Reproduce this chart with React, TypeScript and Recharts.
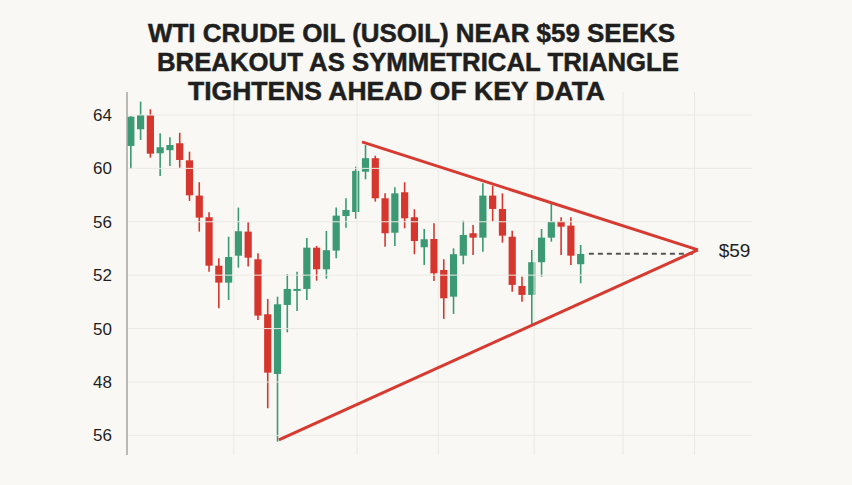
import {
  Bar,
  ComposedChart,
  ReferenceDot,
  ReferenceLine,
  XAxis,
  YAxis,
} from "recharts";

// WTI crude daily candles (index = session number).
const OPEN = [
  61.68, 62.93, 63.98, 61.13, 61.36, 61.88, 60.6, 57.96, 56.34, 52.71,
  51.44, 53.46, 55.26, 53.19, 49.07, 44.6, 49.77, 50.84, 50.97, 54.06,
  52.44, 53.84, 56.43, 56.73, 59.75, 60.76, 57.76, 55.18, 58.21, 56.34,
  54.09, 54.71, 52.39, 50.39, 53.46, 55.14, 54.81, 57.96, 56.96, 54.88,
  51.19, 50.52, 52.97, 54.81, 56.01, 55.71, 52.82,
];
const HIGH = [
  63.9, 65.0, 64.43, 62.63, 62.33, 62.67, 61.25, 58.96, 56.71, 53.27,
  54.88, 57.06, 55.96, 53.64, 50.22, 50.39, 52.07, 52.26, 54.79, 54.19,
  55.31, 57.06, 57.76, 60.13, 61.75, 60.95, 58.13, 58.58, 58.96, 56.94,
  55.46, 55.89, 53.19, 54.01, 56.08, 55.76, 58.88, 58.7, 58.13, 55.33,
  51.89, 53.89, 55.46, 57.39, 56.34, 56.34, 54.26,
];
const LOW = [
  59.96, 62.13, 60.8, 59.43, 60.18, 60.05, 57.56, 55.26, 52.26, 49.52,
  50.14, 52.56, 52.64, 48.64, 42.03, 39.53, 47.72, 49.32, 50.14, 51.59,
  51.74, 53.27, 55.56, 56.23, 59.18, 57.51, 54.13, 54.19, 55.51, 53.57,
  52.76, 51.57, 48.72, 49.1, 52.82, 53.51, 53.76, 56.01, 54.43, 50.76,
  50.01, 48.27, 51.89, 54.51, 53.51, 52.76, 51.39,
];
const CLOSE = [
  63.87, 64.0, 61.1, 61.58, 61.75, 60.63, 57.98, 56.31, 52.71, 51.44,
  53.36, 55.29, 53.31, 48.97, 44.7, 49.82, 50.97, 50.97, 54.06, 52.44,
  53.87, 56.46, 56.88, 59.81, 60.76, 57.76, 55.14, 58.13, 56.26, 54.56,
  54.69, 52.14, 50.27, 53.57, 55.01, 54.81, 57.96, 56.96, 54.96, 51.27,
  50.52, 52.97, 54.81, 56.01, 55.63, 53.46, 53.59,
];

// y axis: evenly spaced gridlines, labelled as printed on the original
const Y_TICKS = [64, 60, 56, 52, 48, 44, 40];
const Y_TICK_LABELS = ["64", "60", "56", "52", "50", "48", "56"];
const X_GRID = [10.5, 23.1, 31.4, 41.2, 50.3, 57.6];

// symmetrical triangle: [session, price]
const UPPER_LINE = [
  [23.6, 61.98],
  [57.95, 53.89],
];
const LOWER_LINE = [
  [15.1, 39.66],
  [57.95, 53.89],
];
const LAST_PRICE_LINE = [
  [46.8, 53.6],
  [57.6, 53.6],
];
const TARGET_LABEL = "$59";

const TITLE_LINES = [
  "WTI CRUDE OIL (USOIL) NEAR $59 SEEKS",
  "BREAKOUT AS SYMMETRICAL TRIANGLE",
  "TIGHTENS AHEAD OF KEY DATA",
];

const BG = "#f9f8f4";
const GREEN = "#3b9a73";
const RED = "#d5372f";
const TRI = "#d63a30";
const GRID = "#ebe9e3";
const AXIS = "#a5a5a5";
const INK = "#1f1f1f";
const FONT = '"Liberation Sans", Arial, Helvetica, sans-serif';

const rows = OPEN.map((open, i) => ({
  i,
  open,
  high: HIGH[i],
  low: LOW[i],
  close: CLOSE[i],
}));

type CandleProps = {
  x?: number;
  y?: number;
  width?: number;
  height?: number;
  payload?: { open: number; high: number; low: number; close: number };
};

/** Wick + body, positioned from the bar's [low, high] pixel span. */
function Candle({ x = 0, y = 0, width = 0, height = 0, payload }: CandleProps) {
  if (!payload) return null;
  const { open, high, low, close } = payload;
  const top = Math.min(y, y + height);
  const bottom = Math.max(y, y + height);
  const span = high - low || 1;
  const px = (p: number) => top + ((high - p) / span) * (bottom - top);
  const cx = x + width / 2;
  const up = close >= open;
  const color = up ? GREEN : RED;
  const bodyTop = px(Math.max(open, close));
  const bodyH = Math.max(px(Math.min(open, close)) - bodyTop, 2);
  return (
    <g>
      <line x1={cx} x2={cx} y1={top} y2={bottom} stroke={color} strokeWidth={1.6} />
      <rect x={cx - 3.6} y={bodyTop} width={7.2} height={bodyH} fill={color} />
    </g>
  );
}

const seg = (pts: number[][]) => pts.map(([x, y]) => ({ x, y }));

export default function App() {
  return (
    <div
      style={{
        position: "absolute",
        left: 0,
        top: 0,
        width: 852,
        height: 485,
        background: BG,
        overflow: "hidden",
      }}
    >
      <ComposedChart
        width={852}
        height={485}
        data={rows}
        margin={{ top: 92, right: 100, bottom: 30, left: 0 }}
      >
        <XAxis
          dataKey="i"
          type="number"
          domain={[-0.43, 63.48]}
          ticks={X_GRID}
          allowDataOverflow
          tick={false}
          tickLine={false}
          height={0}
          axisLine={{ stroke: AXIS, strokeWidth: 2 }}
        />
        <YAxis
          type="number"
          domain={[38.53, 65.72]}
          ticks={Y_TICKS}
          allowDataOverflow
          width={127}
          tickLine={false}
          tickMargin={9}
          axisLine={{ stroke: AXIS, strokeWidth: 1.5 }}
          tick={{ fill: INK, fontSize: 17, fontFamily: FONT }}
          tickFormatter={(v: number) => Y_TICK_LABELS[Y_TICKS.indexOf(v)] ?? String(v)}
        />
        {Y_TICKS.map((t) => (
          <ReferenceLine key={`h${t}`} y={t} stroke={GRID} strokeWidth={1} />
        ))}
        {X_GRID.map((g) => (
          <ReferenceLine key={`v${g}`} x={g} stroke={GRID} strokeWidth={1} />
        ))}
        <Bar
          dataKey={(d: { low: number; high: number }) => [d.low, d.high]}
          barSize={7}
          shape={<Candle />}
          isAnimationActive={false}
        />
        <ReferenceLine
          segment={seg(LAST_PRICE_LINE)}
          stroke="#555"
          strokeWidth={2}
          strokeDasharray="5 4"
          ifOverflow="visible"
        />
        <ReferenceLine
          segment={seg(UPPER_LINE)}
          stroke={TRI}
          strokeWidth={3}
          ifOverflow="visible"
        />
        <ReferenceLine
          segment={seg(LOWER_LINE)}
          stroke={TRI}
          strokeWidth={3}
          ifOverflow="visible"
        />
        <ReferenceDot
          x={61.7}
          y={UPPER_LINE[1][1]}
          r={0}
          fill="none"
          stroke="none"
          ifOverflow="visible"
          label={{
            value: TARGET_LABEL,
            position: "center",
            fill: INK,
            fontSize: 19,
            fontFamily: FONT,
          }}
        />
      </ComposedChart>
      <svg
        width={852}
        height={110}
        style={{ position: "absolute", left: 0, top: 0, pointerEvents: "none" }}
      >
        {TITLE_LINES.map((line, k) => {
          const spans = [
            [148, 527],
            [157, 522],
            [188, 417],
          ][k];
          return (
            <text
              key={line}
              x={spans[0]}
              y={[41.5, 70.5, 100][k]}
              textLength={spans[1]}
              lengthAdjust="spacingAndGlyphs"
              fontFamily={FONT}
              fontWeight={700}
              fontSize={26}
              fill={INK}
              stroke={INK}
              strokeWidth={0.5}
            >
              {line}
            </text>
          );
        })}
      </svg>
    </div>
  );
}
